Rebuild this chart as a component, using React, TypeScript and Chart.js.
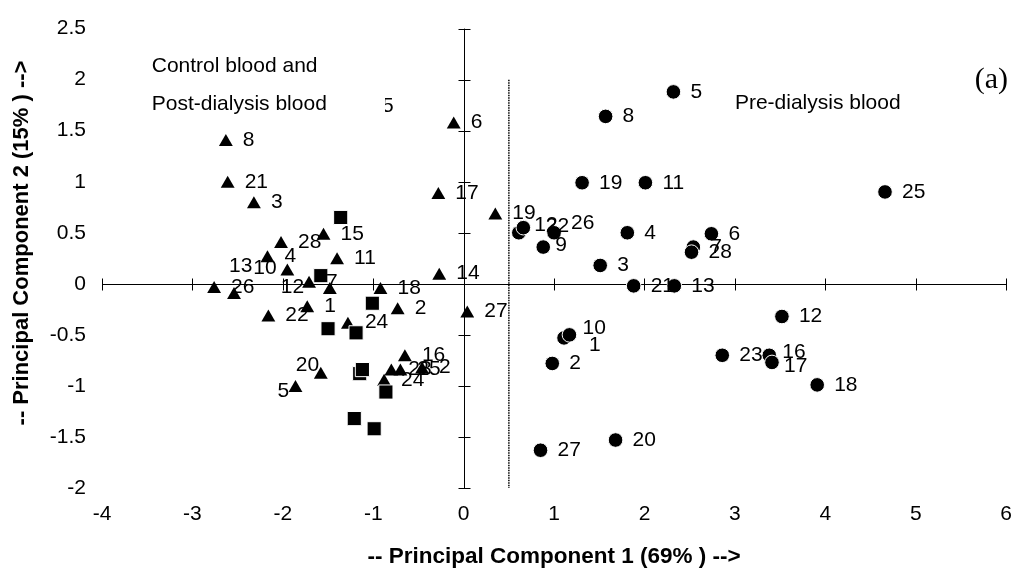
import React, { useEffect, useRef } from "react";
import { Chart, registerables } from "chart.js";

Chart.register(...registerables);

// ---------- data ----------
const X_MIN = -4;
const X_MAX = 6;
const X_STEP = 1;
const Y_MIN = -2;
const Y_MAX = 2.5;
const Y_STEP = 0.5;

const xTitle = "-- Principal Component 1 (69% ) -->";
const yTitle = "-- Principal Component 2 (15% ) -->";

// Pre-dialysis blood (circles)
const preX = [2.32, 1.57, 1.31, 2.01, 0.61, 0.66, 1.0, 0.88, 1.81, 1.51, 1.88, 2.33, 2.74, 2.54, 2.52, 1.11, 1.17, 0.98, 0.85, 1.68, 3.52, 2.86, 3.38, 3.41, 3.91, 4.66];
const preY = [1.88, 1.64, 0.99, 0.99, 0.5, 0.55, 0.5, 0.36, 0.5, 0.18, -0.02, -0.02, 0.49, 0.36, 0.31, -0.53, -0.5, -0.78, -1.63, -1.53, -0.32, -0.7, -0.7, -0.77, -0.99, 0.9];
const preLabels = ["5", "8", "19", "11", "22", "12", "26", "9", "4", "3", "21", "13", "6", "7", "28", "1", "10", "2", "27", "20", "12", "23", "16", "17", "18", "25"];

// Control / post-dialysis blood (triangles)
const triX = [-1.09, -2.63, -2.61, -2.32, -0.11, -0.28, 0.35, -1.55, -2.02, -2.17, -1.95, -2.76, -2.54, -1.71, -1.48, -1.4, -1.73, -2.16, -1.28, -0.92, -0.73, -0.27, 0.04, -1.58, -1.86, -0.88, -0.8, -0.7, -0.65, -0.46];
const triY = [1.72, 1.39, 0.98, 0.78, 1.56, 0.87, 0.67, 0.47, 0.39, 0.25, 0.12, -0.05, -0.11, 0.0, -0.06, 0.23, -0.24, -0.33, -0.4, -0.06, -0.26, 0.08, -0.29, -0.89, -1.02, -0.96, -0.86, -0.86, -0.72, -0.84];
const triLabels = ["5", "8", "21", "3", "6", "17", "19", "15", "28", "4", "10", "26", "13", "7", "12", "11", "1", "22", "24", "18", "2", "14", "27", "20", "5", "24", "23", "25", "16", "2"];

// Squares (no labels)
const sqX = [-1.36, -1.58, -1.01, -1.5, -1.19, -1.15, -1.12, -0.86, -1.21, -0.99];
const sqY = [0.65, 0.08, -0.19, -0.44, -0.48, -0.88, -0.84, -1.06, -1.32, -1.42];

// Dotted separator
const dividerX = 0.5;
const dividerY = [2.0, -2.05];

// Annotation texts
const noteLeft1 = "Control blood and";
const noteLeft2 = "Post-dialysis blood";
const noteRight = "Pre-dialysis blood";
const panelTag = "(a)";

// ---------- label placement tweaks (pixels) ----------
const preNudge: Record<number, [number, number]> = {
  4: [10, -7], 5: [-6, -2], 6: [0, -10], 7: [-5, -2], 15: [8, 7], 16: [-4, -7], 22: [-4, -3], 23: [-5, 4],
};
const triNudge: Record<number, [number, number]> = {
  10: [-51, -1], 12: [-22, -27], 14: [-66, -1], 23: [-42, -7], 24: [-35, 5],
};

const FONT = '"Liberation Sans", Arial, sans-serif';

const toPts = (xs: number[], ys: number[]) => xs.map((x, i) => ({ x, y: ys[i] }));

export default function App() {
  const ref = useRef<HTMLCanvasElement | null>(null);

  useEffect(() => {
    const canvas = ref.current;
    if (!canvas) return;

    const crossAxes = {
      id: "crossAxes",
      beforeDatasetsDraw(chart: any) {
        const { ctx } = chart;
        const xs = chart.scales.x;
        const ys = chart.scales.y;
        const x0 = Math.round(xs.getPixelForValue(0)) + 0.5;
        const y0 = Math.round(ys.getPixelForValue(0)) + 0.5;
        const xl = xs.getPixelForValue(X_MIN);
        const xr = xs.getPixelForValue(X_MAX);
        const yt = ys.getPixelForValue(Y_MAX);
        const yb = ys.getPixelForValue(Y_MIN);
        ctx.save();
        ctx.strokeStyle = "#000";
        ctx.lineWidth = 1;
        ctx.beginPath();
        ctx.moveTo(xl, y0);
        ctx.lineTo(xr, y0);
        ctx.moveTo(x0, yt);
        ctx.lineTo(x0, yb);
        for (let v = X_MIN; v <= X_MAX + 1e-9; v += X_STEP) {
          const px = Math.round(xs.getPixelForValue(v)) + 0.5;
          ctx.moveTo(px, y0 - 6);
          ctx.lineTo(px, y0 + 6);
        }
        for (let v = Y_MIN; v <= Y_MAX + 1e-9; v += Y_STEP) {
          const py = Math.round(ys.getPixelForValue(v)) + 0.5;
          ctx.moveTo(x0 - 6, py);
          ctx.lineTo(x0 + 6, py);
        }
        ctx.stroke();
        ctx.restore();
      },
    };

    const pointLabels = {
      id: "pointLabels",
      afterDatasetsDraw(chart: any) {
        const { ctx } = chart;
        const xs = chart.scales.x;
        const ys = chart.scales.y;
        ctx.save();
        ctx.font = `21px ${FONT}`;
        ctx.fillStyle = "#000";
        ctx.textBaseline = "middle";
        ctx.textAlign = "left";
        const groups: [number, string[], Record<number, [number, number]>, number][] = [
          [0, preLabels, preNudge, 0],
          [2, triLabels, triNudge, -2],
        ];
        groups.forEach(([di, labels, nudge, baseDy]) => {
          const meta = chart.getDatasetMeta(di);
          meta.data.forEach((el: any, i: number) => {
            const lab = labels[i];
            if (!lab) return;
            const n = nudge[i] || [0, 0];
            ctx.fillText(lab, el.x + 17 + n[0], el.y + baseDy + n[1]);
          });
        });

        // white text box covering left annotations
        const bx1 = xs.getPixelForValue(-3.55);
        const bx2 = xs.getPixelForValue(-0.87);
        const by1 = ys.getPixelForValue(2.27);
        const by2 = ys.getPixelForValue(1.55);
        ctx.fillStyle = "#fff";
        ctx.fillRect(bx1, by1, bx2 - bx1, by2 - by1);
        ctx.fillStyle = "#000";
        ctx.fillText(noteLeft1, xs.getPixelForValue(-3.45), ys.getPixelForValue(2.13));
        ctx.fillText(noteLeft2, xs.getPixelForValue(-3.45), ys.getPixelForValue(1.76));
        ctx.fillText(noteRight, xs.getPixelForValue(3.0), ys.getPixelForValue(1.77));

        ctx.font = `30px "Liberation Serif", "Times New Roman", serif`;
        ctx.textAlign = "right";
        ctx.fillText(panelTag, xs.getPixelForValue(6.02), ys.getPixelForValue(2.0));

        // y-axis title
        ctx.font = `bold 22px ${FONT}`;
        ctx.textAlign = "center";
        ctx.translate(22, 243);
        ctx.rotate(-Math.PI / 2);
        ctx.fillText(yTitle, 0, 0);
        ctx.restore();
      },
    };

    const chart = new Chart(canvas, {
      type: "scatter",
      data: {
        datasets: [
          {
            label: "Pre-dialysis",
            data: toPts(preX, preY),
            pointStyle: "circle",
            pointRadius: 7.3,
            pointBackgroundColor: "#000",
            pointBorderColor: "#fff",
            pointBorderWidth: 1,
          },
          {
            label: "Squares",
            data: toPts(sqX, sqY),
            pointStyle: "rect",
            pointRadius: 10,
            pointBackgroundColor: "#000",
            pointBorderColor: "#fff",
            pointBorderWidth: 1,
          },
          {
            label: "Control / Post-dialysis",
            data: toPts(triX, triY),
            pointStyle: "triangle",
            pointRadius: 8,
            pointBackgroundColor: "#000",
            pointBorderColor: "#000",
            pointBorderWidth: 0,
          },
          {
            label: "divider",
            data: dividerY.map((y) => ({ x: dividerX, y })),
            showLine: true,
            pointRadius: 0,
            borderColor: "#000",
            borderWidth: 1.5,
            borderDash: [1.5, 1],
          },
        ],
      },
      options: {
        animation: false,
        responsive: false,
        devicePixelRatio: 1,
        layout: { padding: { top: 18, right: 13, left: 0, bottom: 0 } },
        plugins: {
          legend: { display: false },
          tooltip: { enabled: false },
        },
        scales: {
          x: {
            type: "linear",
            min: X_MIN,
            max: X_MAX,
            grid: { display: false, drawTicks: false },
            border: { display: false },
            ticks: {
              stepSize: X_STEP,
              padding: 14,
              color: "#000",
              font: { size: 21, family: FONT },
              callback: (v: any) => String(v),
            },
            title: {
              display: true,
              text: xTitle,
              color: "#000",
              font: { size: 22.5, weight: "bold", family: FONT },
              padding: { top: 0, bottom: 6 },
            },
            afterFit: (s: any) => {
              s.height = 88;
            },
          },
          y: {
            type: "linear",
            min: Y_MIN,
            max: Y_MAX,
            grid: { display: false, drawTicks: false },
            border: { display: false },
            ticks: {
              stepSize: Y_STEP,
              padding: 16,
              color: "#000",
              font: { size: 21, family: FONT },
              callback: (v: any) => String(v),
            },
            title: { display: false },
            afterFit: (s: any) => {
              s.width = 102;
            },
          },
        },
      },
      plugins: [crossAxes, pointLabels],
    });

    return () => chart.destroy();
  }, []);

  return (
    <div style={{ position: "absolute", left: 0, top: 0, width: 1026, height: 576, background: "#fff" }}>
      <canvas ref={ref} width={1026} height={576} />
    </div>
  );
}
